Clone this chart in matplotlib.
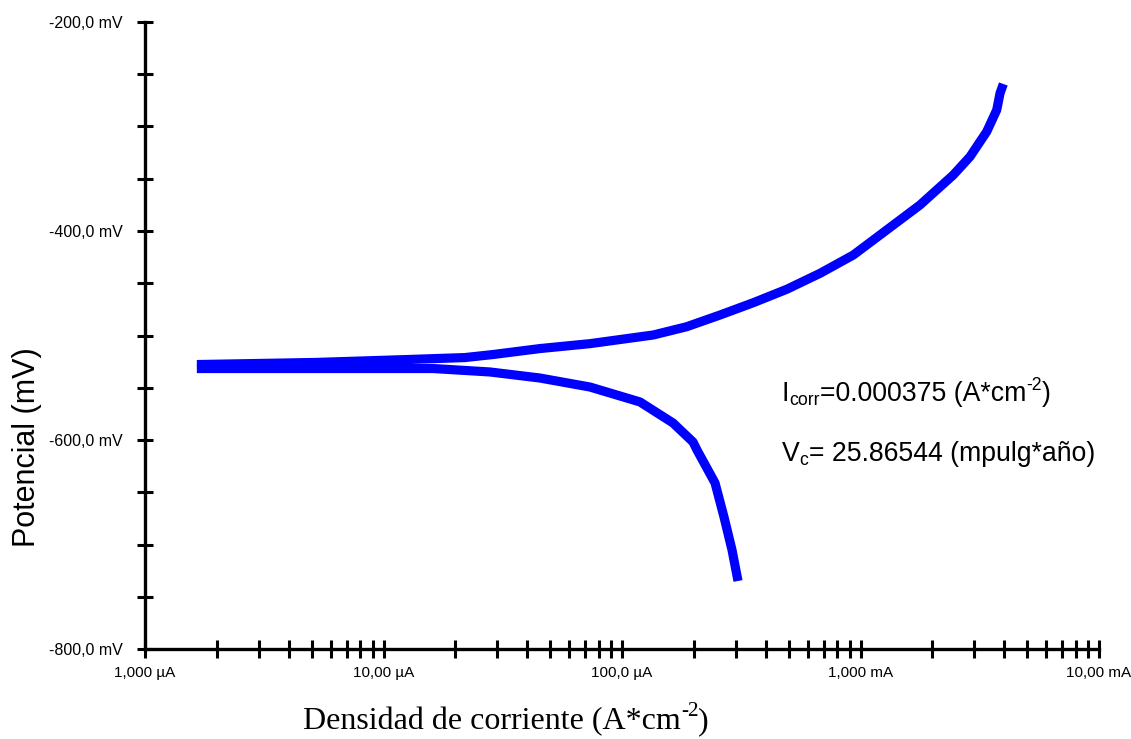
import matplotlib
matplotlib.use("Agg")
import matplotlib.pyplot as plt
from matplotlib.ticker import FixedLocator, FixedFormatter, NullFormatter
from matplotlib.transforms import IdentityTransform

# Anodic (upper) branch: current density (µA) and potential (mV)
anodic_i = [1.65, 5.16, 12.55, 21.97, 28.8, 45.3, 73.4, 135.3, 186.7, 257.6,
            355.3, 490.5, 676.6, 932.8, 1288, 1776, 2449, 2878, 3383, 3725, 3846, 3971]
anodic_e = [-527.8, -525.8, -523.0, -521.1, -518.2, -512.5, -507.8, -499.5,
            -491.6, -480.4, -468.6, -455.8, -440.5, -423.0, -399.0, -375.1, -346.4,
            -328.9, -304.9, -284.2, -268.2, -259.3]

# Cathodic (lower) branch
cathodic_i = [1.65, 16.13, 27.96, 45.3, 73.4, 119, 163.6, 198.5, 206.3, 245.5, 267.7, 289.3, 306.5]
cathodic_e = [-531.6, -531.6, -534.9, -540.7, -549.3, -563.6, -583.7, -601.9, -609.6,
              -641.1, -673.7, -705.3, -734.9]

x_major = [1, 10, 100, 1000, 10000]
x_labels = ["1,000 µA", "10,00 µA", "100,0 µA", "1,000 mA", "10,00 mA"]
y_major = [-800, -600, -400, -200]
y_labels = ["-800,0 mV", "-600,0 mV", "-400,0 mV", "-200,0 mV"]
y_minor = [-750, -700, -650, -550, -500, -450, -350, -300, -250]

icorr_parts = [("I", "n"), ("corr", "sub"), ("=0.000375 (A*cm", "n"), ("-2", "sup"), (")", "n")]
vc_parts = [("V", "n"), ("c", "sub"), ("= 25.86544 (mpulg*año)", "n")]
xlabel_parts = [("Densidad de corriente (A*cm", "n"), ("-2", "sup"), (")", "n")]
ylabel_text = "Potencial (mV)"

W, H = 1131, 739
fig = plt.figure(figsize=(W / 100, H / 100), dpi=100)
ax = fig.add_axes([145 / W, (H - 649) / H, (1099 - 145) / W, (649 - 22) / H])

ax.plot(anodic_i, anodic_e, color="#0000ff", lw=6.6, solid_capstyle="butt", solid_joinstyle="round")
ax.plot(cathodic_i, cathodic_e, color="#0000ff", lw=6.6, solid_capstyle="butt", solid_joinstyle="round")

ax.set_xscale("log")
ax.set_xlim(1, 10000)
ax.set_ylim(-800, -200)

for s in ["top", "right"]:
    ax.spines[s].set_visible(False)
for s in ["left", "bottom"]:
    ax.spines[s].set_linewidth(2.4)
    ax.spines[s].set_color("black")

ax.xaxis.set_major_locator(FixedLocator(x_major))
ax.xaxis.set_major_formatter(FixedFormatter(x_labels))
minor_x = [m * d for d in [1, 10, 100, 1000] for m in range(2, 10)]
ax.xaxis.set_minor_locator(FixedLocator(minor_x))
ax.xaxis.set_minor_formatter(NullFormatter())

ax.yaxis.set_major_locator(FixedLocator(y_major))
ax.yaxis.set_major_formatter(FixedFormatter(y_labels))
ax.yaxis.set_minor_locator(FixedLocator(y_minor))
ax.yaxis.set_minor_formatter(NullFormatter())

ax.tick_params(axis="y", which="both", direction="inout", length=11.5, width=2.2, color="black")
ax.tick_params(axis="x", which="both", direction="inout", length=13, width=2.2, color="black")
ax.tick_params(axis="x", which="major", pad=6)
ax.tick_params(axis="y", which="major", pad=10.5)
for lab in ax.get_xticklabels():
    lab.set_fontfamily("Liberation Sans")
    lab.set_fontsize(11)
for lab in ax.get_yticklabels():
    lab.set_fontfamily("Liberation Sans")
    lab.set_fontsize(11.5)

renderer = fig.canvas.get_renderer()


def rich(x, y, parts, size, family, center=False):
    """Draw text pieces left to right; x, y in pixels from top-left, y = baseline."""
    px = size * 100 / 72
    texts = []
    cx = 0.0
    for s, kind in parts:
        if kind == "sub":
            fs, dy = size * 0.66, -0.16 * px
        elif kind == "sup":
            fs, dy = size * 0.66, 0.40 * px
        else:
            fs, dy = size, 0.0
        t = fig.text(0, 0, s, transform=IdentityTransform(), fontsize=fs,
                     family=family, ha="left", va="baseline")
        w = t.get_window_extent(renderer).width
        texts.append((t, cx, dy))
        cx += w
    x0 = x - cx / 2 if center else x
    for t, off, dy in texts:
        t.set_position((x0 + off, H - y + dy))


rich(782, 401, icorr_parts, 19.2, "Liberation Sans")
rich(782, 461, vc_parts, 19.2, "Liberation Sans")
rich(506, 729, xlabel_parts, 23, "Liberation Serif", center=True)

fig.text(27 / W, 1 - 447 / H, ylabel_text, rotation=90, ha="center", va="center",
         fontsize=22, family="Liberation Sans")

fig.savefig("out.png", dpi=100)
